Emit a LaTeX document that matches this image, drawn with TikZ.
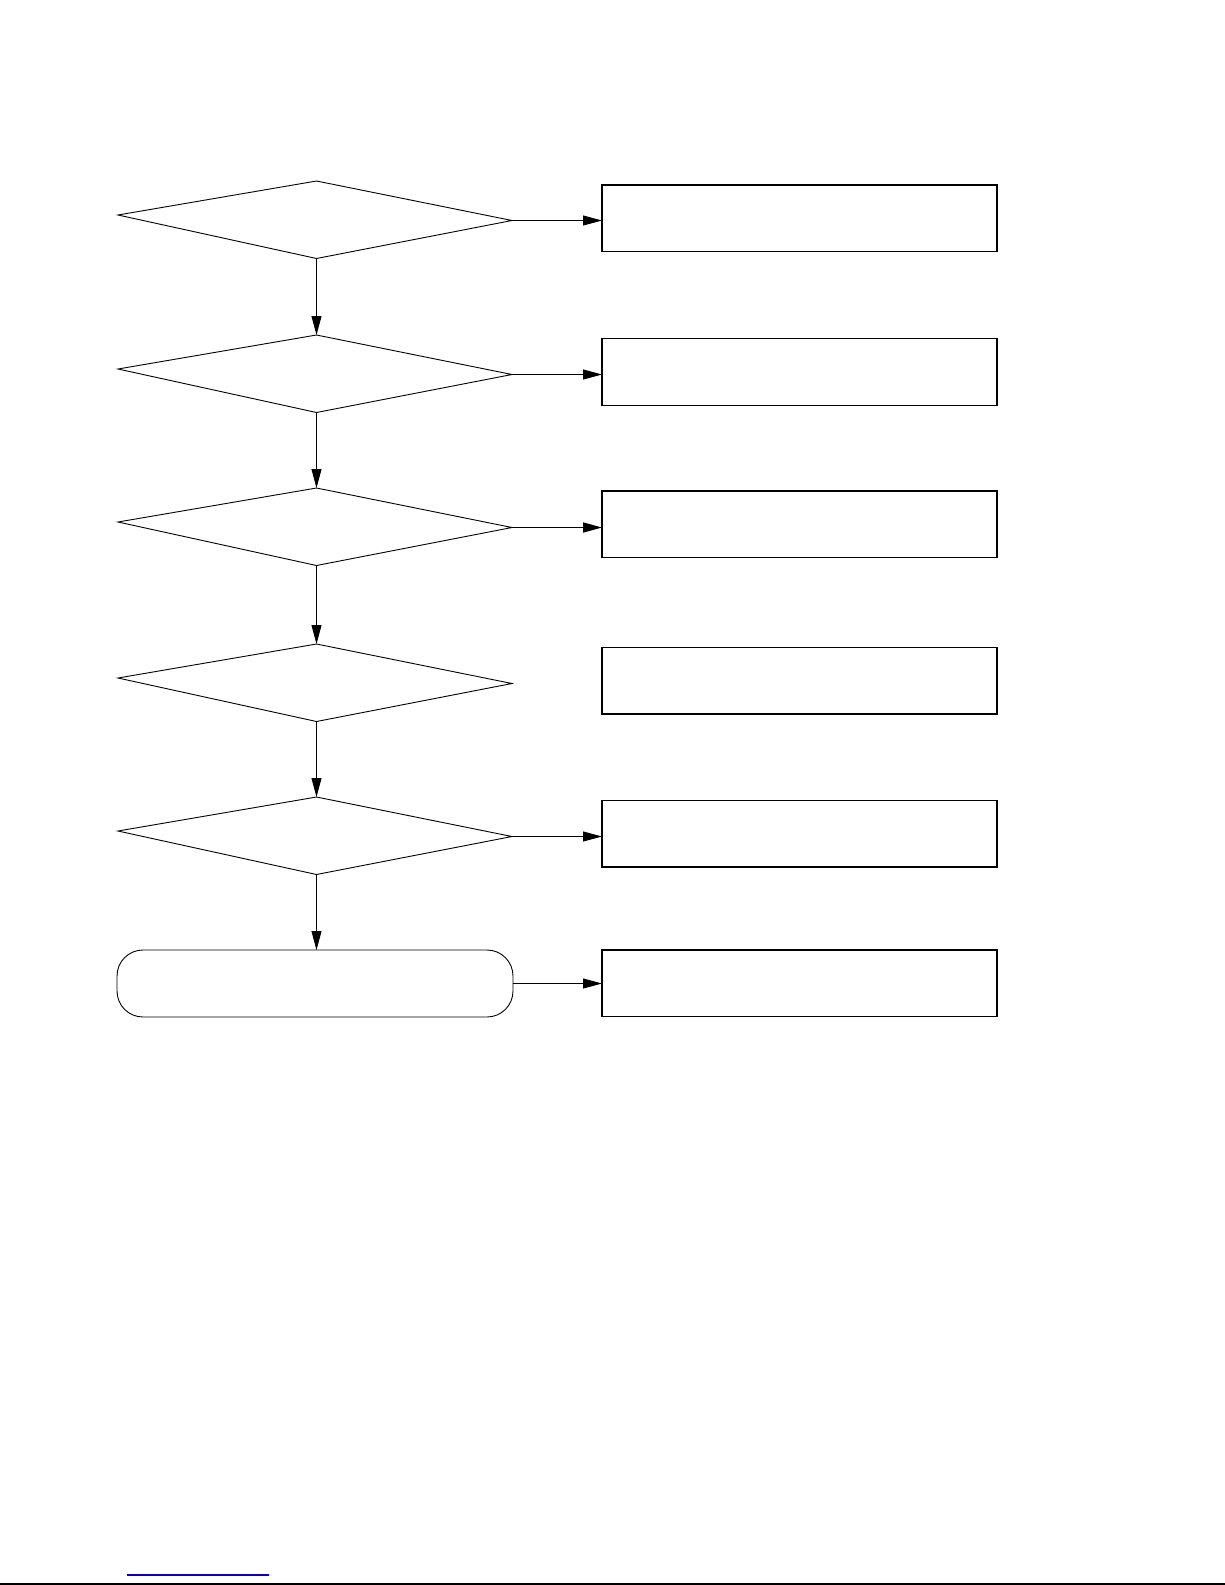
\documentclass[tikz,border=0pt]{standalone}
\usetikzlibrary{arrows.meta}
\begin{document}
\begin{tikzpicture}[x=1pt,y=-1pt,
  decision/.style={draw=black,line width=0.9pt,line join=miter},
  outbox/.style={draw=black,line width=1.2pt,rectangle,minimum width=395pt,minimum height=66.5pt,inner sep=0pt,outer sep=0pt},
  terminal/.style={draw=black,line width=0.9pt,rectangle,rounded corners=26pt,minimum width=396pt,minimum height=67pt,inner sep=0pt,outer sep=0pt},
  flow/.style={draw=black,line width=0.9pt,-{Triangle[length=19pt,width=10pt]}}]
\useasboundingbox (0,0) rectangle (1225,1585);
\fill[white] (0,0) rectangle (1225,1585);

% decision diamonds (vertices as named coordinates)
\foreach \i/\t in {1/181,2/335,3/488,4/644,5/797}{
  \coordinate (d\i t) at (316.5,\t);
  \coordinate (d\i l) at (118,\t+34);
  \coordinate (d\i r) at (512,\t+39.5);
  \coordinate (d\i b) at (316.5,\t+77.5);
  \draw[decision] (d\i t) -- (d\i r) -- (d\i b) -- (d\i l) -- cycle;
}

% right-hand boxes
\node[outbox] (b1) at (799.5,218.3) {};
\node[outbox] (b2) at (799.5,372) {};
\node[outbox] (b3) at (799.5,524.3) {};
\node[outbox] (b4) at (799.5,680.7) {};
\node[outbox] (b5) at (799.5,833.7) {};
\node[outbox] (b6) at (799.5,983.3) {};

% terminal
\node[terminal] (term) at (315,983.5) {};

% vertical flow
\draw[flow] (d1b) -- (d2t);
\draw[flow] (d2b) -- (d3t);
\draw[flow] (d3b) -- (d4t);
\draw[flow] (d4b) -- (d5t);
\draw[flow] (d5b) -- (d5b |- term.north);

% horizontal flow
\draw[flow] (d1r) -- (d1r -| b1.west);
\draw[flow] (d2r) -- (d2r -| b2.west);
\draw[flow,line width=1.6pt] (d3r) -- (d3r -| b3.west);
\draw[flow] (d5r) -- (d5r -| b5.west);
\draw[flow] (term.east) -- (term.east -| b6.west);

% page foot lines
\coordinate (blA) at (127,1575);
\coordinate (blB) at (269,1575);
\draw[line width=1.2pt,color={rgb,255:red,0;green,0;blue,200}] (blA) -- (blB);
\coordinate (fA) at (0,1584);
\coordinate (fB) at (1225,1584);
\draw[line width=1.4pt,black] (fA) -- (fB);
\end{tikzpicture}
\end{document}
